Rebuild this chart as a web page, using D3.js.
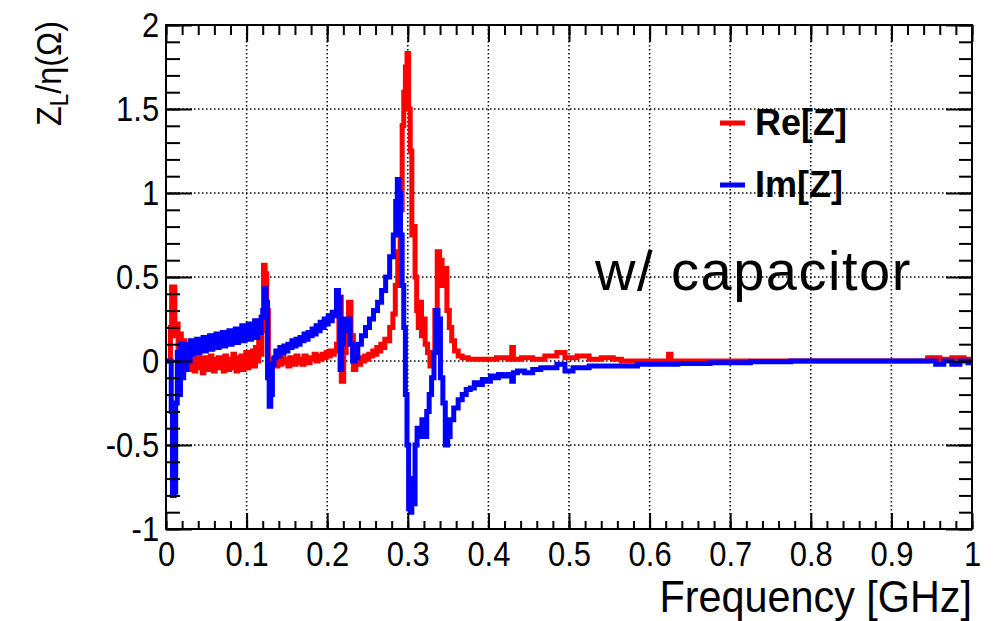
<!DOCTYPE html>
<html>
<head>
<meta charset="utf-8">
<script src="https://cdn.jsdelivr.net/npm/d3@7"></script>
<style>
  body { margin: 0; background: #fff; }
  svg { display: block; }
  text { font-family: "Liberation Sans", Arial, sans-serif; }
</style>
</head>
<body>
<div id="chart"></div>
<script>
// Re[Z] and Im[Z] (frequency in GHz, Z_L/n in Ohm)
var reZ = [
  [0.000,0.00],[0.005,0.00],[0.006,0.20],[0.008,0.44],[0.010,0.44],[0.012,0.15],[0.014,0.22],[0.016,0.05],
  [0.018,0.16],[0.020,0.04],[0.022,0.12],[0.024,-0.03],[0.026,0.05],[0.028,-0.05],
  [0.030,0.02],[0.032,-0.05],[0.034,0.01],[0.036,-0.06],[0.038,-0.01],[0.040,0.03],[0.042,-0.04],
  [0.044,0.00],[0.046,-0.07],[0.048,0.02],[0.050,-0.03],[0.052,0.01],[0.054,-0.05],[0.056,0.03],
  [0.058,-0.02],[0.060,-0.06],[0.062,0.01],[0.064,-0.04],[0.066,0.02],[0.068,-0.03],[0.070,0.00],
  [0.072,-0.06],[0.074,0.03],[0.076,-0.02],[0.078,-0.05],[0.080,0.01],[0.082,-0.04],[0.084,0.04],
  [0.086,-0.01],[0.088,-0.06],[0.090,0.02],[0.092,-0.03],[0.094,0.03],[0.096,-0.05],[0.098,0.00],
  [0.100,0.05],[0.102,-0.04],[0.104,0.02],[0.106,-0.02],[0.108,0.06],[0.110,-0.03],[0.112,0.08],
  [0.114,0.00],[0.116,0.12],[0.118,0.04],
  [0.120,0.18],[0.122,0.57],[0.124,0.52],[0.126,0.30],[0.128,-0.05],[0.130,-0.12],[0.132,-0.03],
  [0.135,0.01],[0.1375,-0.03],[0.140,0.02],[0.1425,-0.02],[0.145,0.03],[0.1475,-0.01],[0.150,0.01],
  [0.1525,-0.03],[0.155,0.02],[0.1575,0.00],[0.160,-0.02],[0.1625,0.03],[0.165,-0.01],[0.1675,0.01],
  [0.170,-0.02],[0.1725,0.03],[0.175,0.00],[0.1775,-0.01],[0.180,0.02],[0.1825,0.01],[0.185,0.04],
  [0.1875,0.00],[0.190,0.03],[0.1925,0.01],[0.195,0.04],[0.1975,0.02],[0.200,0.05],[0.2025,0.03],
  [0.205,0.06],[0.2075,0.04],
  [0.210,0.06],[0.213,0.10],[0.216,0.38],[0.219,-0.12],
  [0.222,0.05],[0.225,0.20],[0.228,0.35],[0.231,0.15],[0.234,-0.05],[0.237,0.00],[0.240,-0.02],
  [0.243,0.02],[0.245,0.00],[0.248,0.03],[0.250,0.01],[0.253,0.04],[0.255,0.03],[0.258,0.06],
  [0.260,0.04],[0.263,0.08],[0.265,0.06],[0.268,0.10],[0.270,0.08],[0.273,0.13],[0.275,0.12],
  [0.280,0.20],[0.283,0.28],[0.286,0.45],[0.289,0.65],[0.292,0.90],[0.294,1.40],[0.296,1.60],
  [0.298,1.75],[0.300,1.83],[0.302,1.50],[0.304,1.25],[0.306,0.75],[0.308,0.80],[0.310,0.50],
  [0.312,0.30],[0.314,0.20],[0.316,0.35],[0.318,0.15],[0.320,0.25],[0.323,0.10],[0.326,0.05],
  [0.329,-0.03],[0.332,0.05],[0.335,0.30],[0.338,0.65],[0.341,0.60],[0.344,0.45],[0.347,0.55],
  [0.350,0.30],[0.353,0.20],[0.356,0.12],[0.360,0.06],[0.365,0.03],[0.370,0.02],[0.380,0.01],
  [0.400,0.01],[0.420,0.02],[0.428,0.01],[0.430,0.08],[0.432,0.01],[0.450,0.02],[0.460,0.01],
  [0.480,0.03],[0.490,0.05],[0.500,0.02],[0.520,0.03],[0.530,0.01],[0.550,0.02],[0.560,0.01],
  [0.570,0.00],[0.600,0.00],[0.622,0.00],[0.625,0.04],[0.628,0.00],[0.700,0.00],[0.800,0.00],
  [0.940,0.00],[0.950,0.02],[0.970,0.01],[0.980,0.02],[1.000,0.01]
];

var imZ = [
  [0.000,0.00],[0.006,0.00],[0.007,-0.30],[0.009,-0.80],[0.011,-0.78],[0.013,-0.25],[0.015,0.05],
  [0.017,-0.20],[0.019,0.10],[0.021,-0.10],[0.023,0.08],[0.025,-0.05],[0.027,0.10],[0.029,0.00],
  [0.031,0.12],[0.033,0.04],[0.035,0.10],[0.037,0.06],[0.039,0.13],[0.041,0.05],[0.043,0.11],
  [0.045,0.08],[0.047,0.14],[0.049,0.06],[0.051,0.12],[0.053,0.09],[0.055,0.15],[0.057,0.07],
  [0.059,0.12],[0.061,0.10],[0.063,0.16],[0.065,0.08],[0.067,0.13],[0.069,0.10],[0.071,0.17],
  [0.073,0.09],[0.075,0.14],[0.077,0.11],[0.079,0.18],[0.081,0.10],[0.083,0.15],[0.085,0.12],
  [0.087,0.19],[0.089,0.11],[0.091,0.16],[0.093,0.13],[0.095,0.21],[0.097,0.12],[0.099,0.17],
  [0.101,0.14],[0.103,0.22],[0.105,0.13],[0.107,0.19],[0.109,0.15],[0.111,0.24],[0.113,0.14],
  [0.115,0.20],[0.117,0.17],[0.119,0.26],
  [0.121,0.30],[0.123,0.43],[0.125,0.35],[0.127,-0.10],[0.129,-0.27],
  [0.131,-0.20],[0.133,-0.02],[0.135,0.02],[0.1375,0.06],[0.140,0.03],[0.1425,0.08],[0.145,0.05],
  [0.1475,0.09],[0.150,0.06],[0.1525,0.10],[0.155,0.08],[0.1575,0.12],[0.160,0.09],[0.1625,0.13],
  [0.165,0.10],[0.1675,0.14],[0.170,0.12],[0.1725,0.16],[0.175,0.13],[0.1775,0.17],[0.180,0.15],
  [0.1825,0.19],[0.185,0.16],[0.1875,0.21],[0.190,0.18],[0.1925,0.23],[0.195,0.20],[0.1975,0.25],
  [0.200,0.22],[0.2025,0.27],[0.205,0.24],[0.2075,0.29],
  [0.210,0.27],[0.213,0.42],[0.215,0.38],[0.217,-0.05],
  [0.219,0.10],[0.221,0.25],[0.224,0.18],[0.227,0.25],[0.230,0.10],[0.233,0.00],[0.236,0.02],
  [0.240,0.10],[0.245,0.15],[0.250,0.20],[0.255,0.25],[0.260,0.30],[0.265,0.35],[0.270,0.42],
  [0.275,0.50],[0.280,0.62],[0.284,0.75],[0.286,0.95],[0.288,1.08],[0.290,1.00],[0.292,0.75],
  [0.294,0.45],[0.296,0.20],[0.298,-0.20],[0.300,-0.50],[0.302,-0.88],[0.304,-0.90],[0.306,-0.70],
  [0.308,-0.85],[0.310,-0.50],[0.313,-0.40],[0.316,-0.45],[0.319,-0.35],[0.322,-0.45],[0.325,-0.30],
  [0.328,-0.20],[0.331,-0.10],[0.334,0.05],[0.336,0.30],[0.339,0.25],[0.342,-0.10],[0.345,-0.25],
  [0.348,-0.50],[0.351,-0.45],[0.354,-0.35],[0.360,-0.28],[0.365,-0.23],[0.370,-0.20],[0.375,-0.17],
  [0.380,-0.16],[0.385,-0.13],[0.390,-0.14],[0.395,-0.11],[0.400,-0.12],[0.405,-0.09],[0.410,-0.10],
  [0.415,-0.08],[0.420,-0.09],[0.428,-0.08],[0.430,-0.12],[0.432,-0.07],[0.440,-0.06],[0.450,-0.07],
  [0.460,-0.05],[0.470,-0.04],[0.480,-0.04],[0.490,-0.02],[0.500,-0.06],[0.510,-0.04],[0.520,-0.04],
  [0.530,-0.03],[0.550,-0.03],[0.570,-0.03],[0.600,-0.02],[0.620,-0.02],[0.650,-0.015],[0.700,-0.01],
  [0.750,-0.005],[0.800,0.00],[0.900,0.00],[0.950,0.00],[0.960,-0.02],[0.970,0.00],[0.980,-0.02],
  [0.990,0.00],[1.000,-0.01]
];

var xTicks = [0, 0.1, 0.2, 0.3, 0.4, 0.5, 0.6, 0.7, 0.8, 0.9, 1];
var yTicks = [-1, -0.5, 0, 0.5, 1, 1.5, 2];
var legendNames = ["Re[Z]", "Im[Z]"];
var colors = ["#ff0000", "#0000ff"];

var W = 993, H = 621;
// frame edges ("top" is reserved by window, so use m* names)
var mLeft = 166, mRight = 972, mTop = 25, mBottom = 529;

var svg = d3.select("#chart").append("svg")
            .attr("width", W)
            .attr("height", H);

var xScale = d3.scaleLinear().domain([0, 1]).range([mLeft, mRight]);
var yScale = d3.scaleLinear().domain([-1, 2]).range([mBottom, mTop]);

// dotted grid
var grid = svg.append("g").attr("class", "grid")
              .attr("stroke", "#000").attr("stroke-width", 1.5)
              .attr("stroke-dasharray", "1.5,2.5");
grid.selectAll(".gx").data(xTicks.slice(1, -1)).enter().append("line")
    .attr("x1", function(d) { return xScale(d); }).attr("x2", function(d) { return xScale(d); })
    .attr("y1", mTop).attr("y2", mBottom);
grid.selectAll(".gy").data(yTicks.slice(1, -1)).enter().append("line")
    .attr("y1", function(d) { return yScale(d); }).attr("y2", function(d) { return yScale(d); })
    .attr("x1", mLeft).attr("x2", mRight);

// curves, drawn as histogram steps
var line = d3.line()
             .x(function(d) { return xScale(d[0]); })
             .y(function(d) { return yScale(d[1]); })
             .curve(d3.curveStep);

[reZ, imZ].forEach(function(series, i) {
  svg.append("path")
     .datum(series)
     .attr("fill", "none")
     .attr("stroke", colors[i])
     .attr("stroke-width", 5)
     .attr("stroke-linejoin", "miter")
     .attr("d", line);
});

// axes with inward ticks (ROOT style)
var xMinor = d3.range(0, 1.0001, 0.02);
var yMinor = d3.range(-1, 2.0001, 0.1);

function styleAxis(g) {
  g.select(".domain").remove();
  g.selectAll("line").attr("stroke", "#000").attr("stroke-width", 2);
}

svg.append("g").attr("transform", "translate(0," + mBottom + ")")
   .call(d3.axisBottom(xScale).tickValues(xMinor).tickSize(-8).tickFormat(""))
   .call(styleAxis);
svg.append("g").attr("transform", "translate(0," + mTop + ")")
   .call(d3.axisTop(xScale).tickValues(xMinor).tickSize(-10).tickFormat(""))
   .call(styleAxis);
svg.append("g").attr("transform", "translate(0," + mTop + ")")
   .call(d3.axisTop(xScale).tickValues(xTicks).tickSize(-17).tickFormat(""))
   .call(styleAxis);
svg.append("g").attr("transform", "translate(" + mLeft + ",0)")
   .call(d3.axisLeft(yScale).tickValues(yMinor).tickSize(-14).tickFormat(""))
   .call(styleAxis);
svg.append("g").attr("transform", "translate(" + mRight + ",0)")
   .call(d3.axisRight(yScale).tickValues(yMinor).tickSize(-13).tickFormat(""))
   .call(styleAxis);
svg.append("g").attr("transform", "translate(" + mRight + ",0)")
   .call(d3.axisRight(yScale).tickValues(yTicks).tickSize(-26).tickFormat(""))
   .call(styleAxis);

// tick labels: a bit taller than wide, like the ROOT font
var xAxis = svg.append("g").attr("transform", "translate(0," + mBottom + ")")
   .call(d3.axisBottom(xScale).tickValues(xTicks).tickSize(-16).tickPadding(11)
           .tickFormat(function(d) { return String(d); }))
   .call(styleAxis);
xAxis.selectAll("text").attr("font-size", 36).attr("fill", "#000")
     .attr("font-family", "Liberation Sans, Arial, sans-serif")
     .attr("transform", "scale(0.86,1)");

var yAxis = svg.append("g").attr("transform", "translate(" + mLeft + ",0)")
   .call(d3.axisLeft(yScale).tickValues(yTicks).tickSize(-26).tickPadding(8)
           .tickFormat(function(d) { return String(d); }))
   .call(styleAxis);
yAxis.selectAll("text").attr("font-size", 36).attr("fill", "#000")
     .attr("font-family", "Liberation Sans, Arial, sans-serif")
     .attr("transform", "scale(0.86,1)");

// frame
svg.append("rect")
   .attr("x", mLeft).attr("y", mTop)
   .attr("width", mRight - mLeft).attr("height", mBottom - mTop)
   .attr("fill", "none").attr("stroke", "#000").attr("stroke-width", 2);

// axis titles
svg.append("text")
   .attr("transform", "translate(" + mRight + ",612) scale(0.94,1)")
   .attr("text-anchor", "end")
   .attr("font-size", 44)
   .text("Frequency [GHz]");

var yt = svg.append("text")
   .attr("transform", "translate(61," + (mTop - 4) + ") rotate(-90) scale(0.9,1)")
   .attr("text-anchor", "end")
   .attr("font-size", 36);
yt.append("tspan").text("Z");
yt.append("tspan").attr("font-size", 25).attr("dy", 7).text("L");
yt.append("tspan").attr("dy", -7).text("/η(Ω)");

// legend
legendNames.forEach(function(name, i) {
  var ly = 123 + i * 62;
  svg.append("line")
     .attr("x1", 720).attr("x2", 745)
     .attr("y1", ly).attr("y2", ly)
     .attr("stroke", colors[i]).attr("stroke-width", 5);
  svg.append("text")
     .attr("x", 755).attr("y", ly + 12)
     .attr("font-size", 36).attr("font-weight", "bold")
     .text(name);
});

svg.append("text")
   .attr("x", 595).attr("y", 290)
   .attr("font-family", "Open Sans, sans-serif")
   .attr("font-size", 56)
   .attr("letter-spacing", 1.5)
   .text("w/ capacitor");
</script>
</body>
</html>
